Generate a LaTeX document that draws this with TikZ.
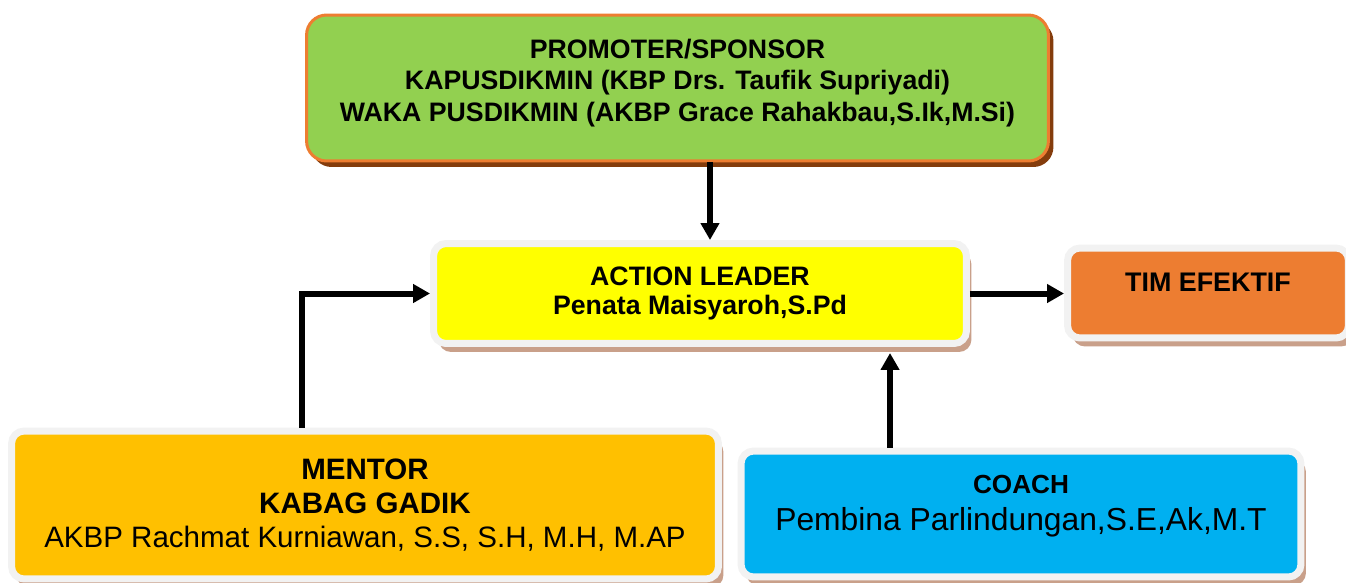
\documentclass[tikz,border=0pt]{standalone}
\usepackage{fontspec}
\setmainfont{Liberation Sans}
\usetikzlibrary{arrows.meta,shapes,shadows,calc}

\definecolor{promgreen}{HTML}{92D050}
\definecolor{promline}{HTML}{ED7D31}
\definecolor{promshade}{HTML}{843C0C}
\definecolor{leadyellow}{HTML}{FFFF00}
\definecolor{timorange}{HTML}{ED7D31}
\definecolor{mentorgold}{HTML}{FFC000}
\definecolor{coachblue}{HTML}{00B0F0}
\definecolor{framegray}{HTML}{F2F2F2}
\definecolor{lightshade}{HTML}{C9A08A}

\begin{document}
\begin{tikzpicture}[x=0.02cm, y=-0.02cm,
                    every node/.style = {rounded corners=0.25cm, align=center, inner sep=0pt},
                    frame/.style = {draw=framegray, line width=0.14cm,
                        drop shadow={shadow xshift=0.1cm, shadow yshift=-0.17cm, fill=lightshade, opacity=1}},
                    conn/.style = {-{Triangle[length=0.34cm, width=0.36cm]}, line width=0.12cm}]
    \useasboundingbox (0,0) rectangle (1346,582);
    % top box
    \node (prom) at (677.5,88) [fill=promgreen, draw=promline, line width=0.06cm, rounded corners=0.4cm,
        minimum width=14.84cm, minimum height=2.92cm,
        drop shadow={shadow xshift=0.1cm, shadow yshift=-0.12cm, fill=promshade, opacity=1},
        font=\bfseries\fontsize{15.2}{18}\selectfont]
        {PROMOTER/SPONSOR\\KAPUSDIKMIN (KBP Drs. Taufik Supriyadi)\\WAKA PUSDIKMIN (AKBP Grace Rahakbau,S.Ik,M.Si)\\[-9pt]~};
    % middle row
    \node (lead) at (700,293.5) [frame, fill=leadyellow, minimum width=10.66cm, minimum height=2.0cm,
        font=\bfseries\fontsize{15.2}{17}\selectfont]
        {ACTION LEADER\\Penata Maisyaroh,S.Pd};
    \node (tim) at (1208,293) [frame, fill=timorange, minimum width=5.62cm, minimum height=1.8cm,
        text depth=0.44cm, font=\bfseries\fontsize{15.3}{17}\selectfont]
        {TIM EFEKTIF};
    % bottom row
    \node (mentor) at (365,505) [frame, fill=mentorgold, minimum width=14.14cm, minimum height=2.96cm,
        font=\fontsize{16.8}{19.5}\selectfont]
        {\textbf{MENTOR}\\\textbf{KABAG GADIK}\\AKBP Rachmat Kurniawan, S.S, S.H, M.H, M.AP};
    \node (coach) at (1021,514) [frame, fill=coachblue, minimum width=11.2cm, minimum height=2.52cm,
        font=\fontsize{14.9}{21}\selectfont]
        {\textbf{COACH}\\\fontsize{18.1}{21}\selectfont Pembina Parlindungan,S.E,Ak,M.T\\[-8pt]~};

    \draw[conn] ([xshift=0.65cm]prom.south) -- ([xshift=0.65cm]prom.south |- lead.north);
    \draw[conn] ([xshift=-1.26cm]mentor.north) |- (lead.west);
    \draw[conn] ([xshift=-2.62cm]coach.north) -- ([xshift=-2.62cm,yshift=-0.12cm]coach.north |- lead.south);
    \draw[conn] (lead.east) -- (lead.east -| tim.west);
\end{tikzpicture}
\end{document}
